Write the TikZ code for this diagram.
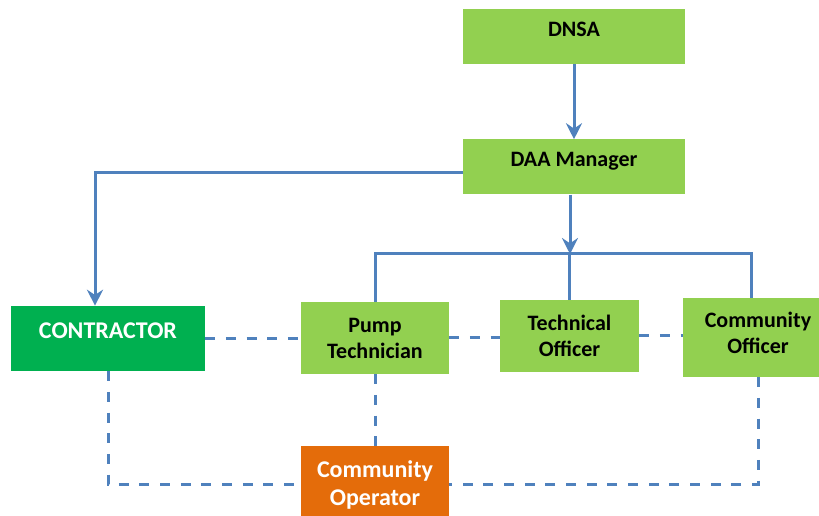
\documentclass[tikz,border=0pt]{standalone}
\usepackage{fontspec}
\setmainfont{Carlito}
\usepackage{tikz}
\usetikzlibrary{arrows.meta,positioning}
\definecolor{cLeaf}{HTML}{92D050}
\definecolor{cFirm}{HTML}{00B050}
\definecolor{cRust}{HTML}{E46C0A}
\definecolor{cLink}{HTML}{4F81BD}
\tikzset{
  >={Stealth[length=12pt,width=12pt,inset=4pt]},
  box/.style    ={fill=cLeaf,align=center,inner xsep=2pt,inner ysep=0pt,
                  font=\fontsize{16.5}{19.5}\selectfont\bfseries,text=black},
  wbox/.style   ={box,text=white,font=\fontsize{18}{21}\selectfont\bfseries},
  onebox/.style ={text height=#1,text depth=#1},
  ar/.style     ={->,line width=2.25pt,cLink},
  ln/.style     ={line width=2.25pt,cLink},
  dl/.style     ={line width=2.25pt,cLink,dash pattern=on 7.5pt off 8pt},
}

\begin{document}
\begin{tikzpicture}[x=0.75pt,y=-0.75pt]
\useasboundingbox (0,0) rectangle (819,516);
% management chain
\node[box,onebox=20.6pt,minimum width=166.5pt] (dnsa) at (574,36.5) {DNSA};
\node[box,onebox=20.6pt,minimum width=166.5pt,below=56.25pt of dnsa] (daa) {DAA Manager};

% field staff row
\node[wbox,onebox=24.4pt,fill=cFirm,minimum width=145.5pt] (con) at (108,338.5) {CONTRACTOR};
\node[box,minimum width=111pt,minimum height=54pt] (pump) at (375,338) {Pump\\Technician};
\node[box,minimum width=104.25pt,minimum height=54pt] (tech) at (569.5,336) {Technical\\Officer};
\node[box,text depth=7.5pt,minimum width=112.5pt,minimum height=59.25pt] (coff) at (758,337.5) {Community\\Officer};
\node[wbox,fill=cRust,minimum width=111pt,minimum height=57.75pt] (cop) at (375,484.5) {Community\\Operator};

\coordinate (bar)  at (570,254);
\coordinate (barR) at (751,254);
\coordinate (turn) at (95,172.5);

% solid lines
\draw[ar] (dnsa) -- (daa);
\draw[ar] (daa.south -| bar) -- (bar);
\draw[ar] (daa.west |- turn) -- (turn) -- (turn |- con.north);
\draw[ln] (barR |- coff.north) -- (barR) -- (pump.north |- barR) -- (pump.north);
\draw[ln] (tech.north) -- (tech.north |- bar);

% dashed links
\draw[dl] (con.east) -- (con.east -| pump.west);
\draw[dl] (pump.east) -- (pump.east -| tech.west);
\draw[dl] (tech.east) -- (tech.east -| coff.west);
\draw[dl] (con.south) -- (con.south |- cop.west) -- (cop.west);
\draw[dl] (pump.south) -- (cop.north);
\draw[dl] (coff.south) -- (coff.south |- cop.east) -- (cop.east);
\end{tikzpicture}
\end{document}
